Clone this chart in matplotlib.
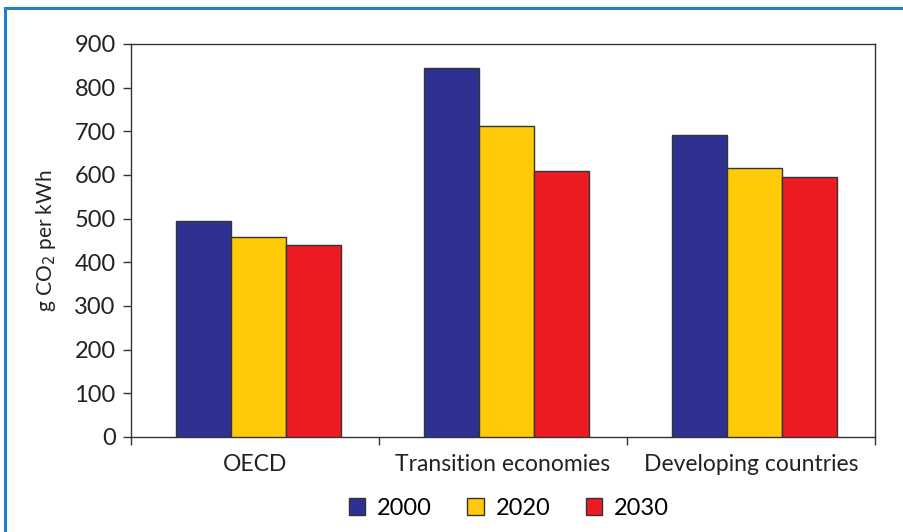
import matplotlib.pyplot as plt
import numpy as np
from matplotlib.patches import Rectangle

plt.rcParams['font.family'] = ['Lato', 'DejaVu Sans']

# Emisiones por kWh por región y año
regions = ["OECD", "Transition economies", "Developing countries"]
years = ["2000", "2020", "2030"]
co2_2000 = [495, 845, 691]
co2_2020 = [458, 713, 617]
co2_2030 = [440, 608, 595]
colors = ["#2e3192", "#ffcb08", "#ed1c24"]

fig = plt.figure(figsize=(9.04, 5.32), dpi=100)
ax = fig.add_axes([0.1449, 0.1786, 0.8230, 0.7387])

x = np.arange(len(regions))
width = 0.222
for i, (vals, year) in enumerate(zip([co2_2000, co2_2020, co2_2030], years)):
    ax.bar(x + (i - 1) * width + 0.015, vals, width, color=colors[i], label=year,
           edgecolor="#333333", linewidth=1.0, zorder=3)

ax.set_xlim(-0.5, 2.5)
ax.set_ylim(0, 900)
ax.set_yticks(range(0, 901, 100))
ax.set_xticks(x)
ax.set_xticklabels(regions)
ax.set_xticks([-0.5, 0.5, 1.5, 2.5], minor=True)
ax.tick_params(axis="x", which="major", length=0, pad=12, labelsize=16.5, colors="#222222")
ax.tick_params(axis="x", which="minor", length=6, width=1, color="#333333")
ax.tick_params(axis="y", length=6, width=1, color="#333333", pad=5, labelsize=17,
               labelcolor="#222222")
for s in ax.spines.values():
    s.set_color("#333333")
    s.set_linewidth(1.0)

ax.set_ylabel("g CO$_2$ per kWh", fontsize=15, color="#222222", labelpad=12)

leg = fig.legend(loc="center", bbox_to_anchor=(0.563, 0.045), ncol=3, frameon=False,
                 fontsize=17, handlelength=0.7, handleheight=0.7, handletextpad=0.5,
                 columnspacing=1.5)

# Marco azul del recuadro
fig.add_artist(Rectangle((5 / 904, -0.1), 1.2, 1.1 - 8 / 532, transform=fig.transFigure,
                         fill=False, edgecolor="#1f7fc8", linewidth=2.2))

fig.savefig("out.png", dpi=100)
